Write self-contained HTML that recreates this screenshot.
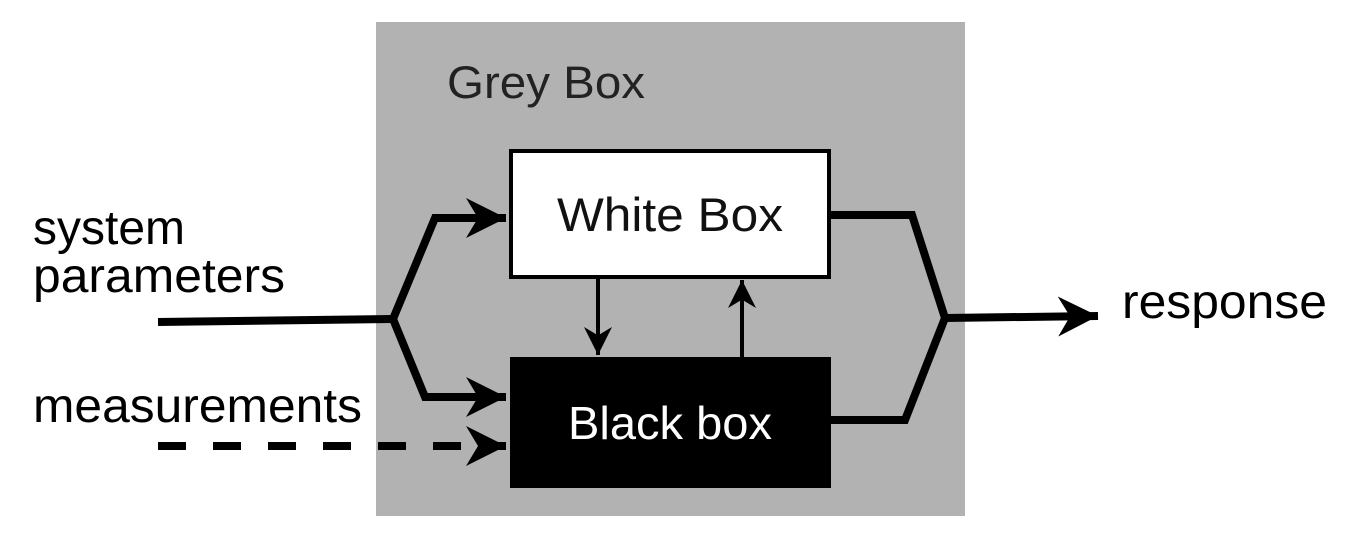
<!DOCTYPE html>
<html><head><style>
html,body{margin:0;padding:0;background:#fff;}
svg{display:block;}
text{font-family:"Liberation Sans",sans-serif;}
</style></head><body>
<svg width="1350" height="533" viewBox="0 0 1350 533" xmlns="http://www.w3.org/2000/svg">
<defs>
<marker id="a" viewBox="0 0 10 10" refX="10" refY="5" markerWidth="5" markerHeight="5" markerUnits="strokeWidth" orient="auto">
<path d="M0,0 L10,5 L0,10 L3,5 z" fill="#000"/>
</marker>
<marker id="b" viewBox="0 0 10 10" refX="10" refY="5" markerWidth="7" markerHeight="7" markerUnits="strokeWidth" orient="auto">
<path d="M0,0 L10,5 L0,10 L3,5 z" fill="#000"/>
</marker>
</defs>
<rect x="376" y="22" width="589" height="494" fill="#b2b2b2"/>
<text x="447" y="98" font-size="45" fill="#222" textLength="198" lengthAdjust="spacingAndGlyphs">Grey Box</text>
<rect x="511" y="151" width="318" height="126" fill="#fff" stroke="#000" stroke-width="4"/>
<text x="557" y="231" font-size="47" fill="#111" textLength="226" lengthAdjust="spacingAndGlyphs">White Box</text>
<rect x="510" y="357" width="321" height="131" fill="#000"/>
<text x="568" y="439" font-size="46" fill="#fff" textLength="204" lengthAdjust="spacingAndGlyphs">Black box</text>
<g fill="none" stroke="#000" stroke-width="8" stroke-linejoin="miter">
<path d="M158,322 L393,319"/>
<path d="M393,319 L435,218 L506,218" marker-end="url(#a)"/>
<path d="M393,319 L425,397 L506,397" marker-end="url(#a)"/>
<path d="M158,446 L506,446" stroke-dasharray="28,27" marker-end="url(#a)"/>
<path d="M829,215 L912,215 L945,318 L905,420 L831,420"/>
<path d="M945,318 L1098,316" marker-end="url(#a)"/>
</g>
<g fill="none" stroke="#000" stroke-width="4">
<path d="M598,279 L598,355" marker-end="url(#b)"/>
<path d="M742,357 L742,280" marker-end="url(#b)"/>
</g>
<text x="33" y="244" font-size="48" fill="#000" textLength="152" lengthAdjust="spacingAndGlyphs">system</text>
<text x="33" y="292" font-size="48" fill="#000" textLength="252" lengthAdjust="spacingAndGlyphs">parameters</text>
<text x="33" y="422" font-size="48" fill="#000" textLength="329" lengthAdjust="spacingAndGlyphs">measurements</text>
<text x="1122" y="318" font-size="48" fill="#000" textLength="205" lengthAdjust="spacingAndGlyphs">response</text>
</svg>
</body></html>
